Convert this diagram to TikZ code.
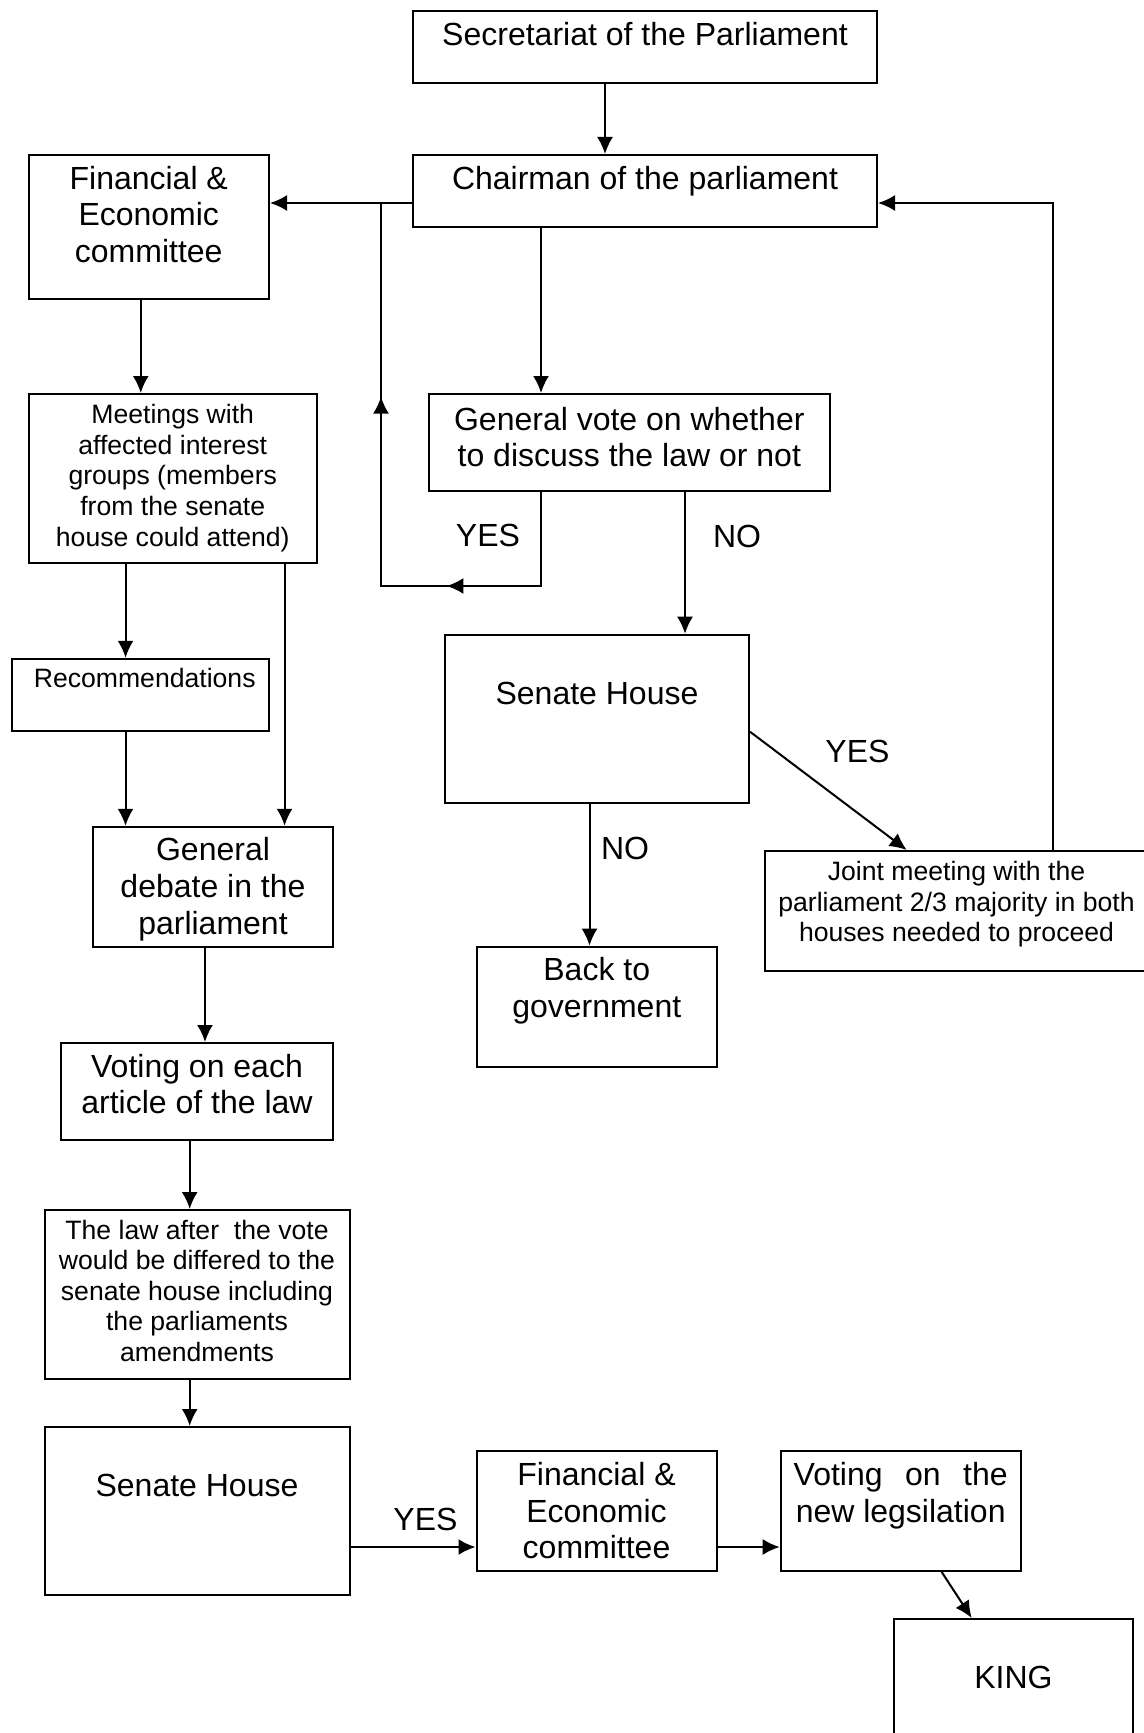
\documentclass[tikz,border=0pt]{standalone}
\usepackage{fontspec}
\setmainfont{Liberation Sans}
\usetikzlibrary{arrows.meta}
\usetikzlibrary{decorations,decorations.markings}
\tikzstyle{box}=[draw, line width=1pt, rectangle, inner sep=0pt]
\tikzstyle{bigtxt}=[anchor=north, inner sep=0pt, align=center, font=\fontsize{16}{18.45}\selectfont]
\tikzstyle{smalltxt}=[anchor=north, inner sep=0pt, align=center, font=\fontsize{13.3}{15.3}\selectfont]
\tikzstyle{answer}=[inner sep=0pt, font=\fontsize{16}{18.45}\selectfont]
\tikzstyle{flow}=[line width=1pt, -{Latex[length=8.5pt,width=8pt]}]
\tikzstyle{plainflow}=[line width=1pt]

\begin{document}
\begin{tikzpicture}[x=0.5pt, y=-0.5pt]
		\useasboundingbox (0,0) rectangle (1144,1733);
		% boxes
		\node[box, minimum width=232pt, minimum height=36pt] (secr) at (645,47) {};
		\node[box, minimum width=232pt, minimum height=36pt] (chair) at (645,191) {};
		\node[box, minimum width=120.25pt, minimum height=72pt] (fin) at (148.75,227) {};
		\node[box, minimum width=144.25pt, minimum height=84.5pt] (meet) at (172.75,478.5) {};
		\node[box, minimum width=200.3pt, minimum height=48.5pt] (vote) at (629.3,442.5) {};
		\node[box, minimum width=152pt, minimum height=84pt] (senA) at (597,718.7) {};
		\node[box, minimum width=128.3pt, minimum height=36.1pt] (reco) at (140.7,694.9) {};
		\node[box, minimum width=120.35pt, minimum height=60.3pt] (debate) at (213,887.1) {};
		\node[box, minimum width=136.4pt, minimum height=48.25pt] (votart) at (197,1091.25) {};
		\node[box, minimum width=119.75pt, minimum height=60.2pt] (back) at (596.75,1006.8) {};
		\node[box, minimum width=191.5pt, minimum height=60pt] (joint) at (956.5,911) {};
		\node[box, minimum width=152.5pt, minimum height=84.5pt] (law) at (197,1294.5) {};
		\node[box, minimum width=152.5pt, minimum height=84pt] (senB) at (197,1511) {};
		\node[box, minimum width=120pt, minimum height=60pt] (finB) at (596.5,1511) {};
		\node[box, minimum width=120pt, minimum height=60pt] (legis) at (900.7,1511) {};
		\node[box, minimum width=119.6pt, minimum height=63pt] (king) at (1013.4,1682) {};
		% texts
		\node[bigtxt] (secr-t) at ([yshift=-5.75pt]secr.north) {Secretariat of the Parliament};
		\node[bigtxt] (chair-t) at ([yshift=-5.75pt]chair.north) {Chairman of the parliament};
		\node[bigtxt] (fin-t) at ([yshift=-5.75pt]fin.north) {Financial \&\\Economic\\committee};
		\node[smalltxt] (meet-t) at ([yshift=-5.5pt]meet.north) {Meetings with\\affected interest\\groups (members\\from the senate\\house could attend)};
		\node[bigtxt] (vote-t) at ([yshift=-6.75pt]vote.north) {General vote on whether\\to discuss the law or not};
		\node[bigtxt] (senA-t) at ([yshift=-23.9pt]senA.north) {Senate House};
		\node[smalltxt] (reco-t) at ([xshift=2pt,yshift=-5.25pt]reco.north) {Recommendations};
		\node[bigtxt] (debate-t) at ([yshift=-5.75pt]debate.north) {General\\debate in the\\parliament};
		\node[bigtxt] (votart-t) at ([yshift=-5.75pt]votart.north) {Voting on each\\article of the law};
		\node[bigtxt] (back-t) at ([yshift=-5.75pt]back.north) {Back to\\government};
		\node[smalltxt] (joint-t) at ([yshift=-5.5pt]joint.north) {Joint meeting with the\\parliament 2/3 majority in both\\houses needed to proceed};
		\node[smalltxt] (law-t) at ([yshift=-5.25pt]law.north) {The law after~ the vote\\would be differed to the\\senate house including\\the parliaments\\amendments};
		\node[bigtxt] (senB-t) at ([yshift=-23.9pt]senB.north) {Senate House};
		\node[bigtxt] (finB-t) at ([yshift=-5.75pt]finB.north) {Financial \&\\Economic\\committee};
		\node[bigtxt] (legis-t) at ([yshift=-5.75pt]legis.north) {\hbox to 107pt{Voting\hfill on\hfill the}\\new legsilation};
		\node[bigtxt] (king-t) at ([yshift=-23.9pt]king.north) {KING};
		% answers
		\node[answer] (yesA) at (488,535) {YES};
		\node[answer] (noA) at (737,536) {NO};
		\node[answer] (noB) at (625,848) {NO};
		\node[answer] (yesB) at (857.5,751.5) {YES};
		\node[answer] (yesC) at (425.5,1519) {YES};
		% connectors
		\coordinate (junction) at (381,203);
		\coordinate (yesturn) at (381,586);
		\draw[flow] ([xshift=-20pt]secr.south) -- ([xshift=-20pt]secr.south |- chair.north);
		\draw[flow] ([yshift=-6pt]chair.west) -- ([yshift=-6pt]chair.west -| fin.east);
		\draw[flow] ([xshift=-52pt]chair.south) -- ([xshift=-52pt]chair.south |- vote.north);
		\draw[plainflow, postaction={decorate}, decoration={markings,
			mark=at position 0.296 with {\arrow{Latex[length=8.5pt,width=8pt]}},
			mark=at position 0.696 with {\arrow{Latex[length=8.5pt,width=8pt]}}}]
			([xshift=-52pt]chair.south |- vote.south) |- (yesturn) -- (junction);
		\draw[flow] ([xshift=-4pt]fin.south) -- ([xshift=-4pt]fin.south |- meet.north);
		\draw[flow] ([xshift=-23.6pt]meet.south) -- ([xshift=-23.6pt]meet.south |- reco.north);
		\draw[flow] ([xshift=55.9pt]meet.south) -- ([xshift=55.9pt]meet.south |- debate.north);
		\draw[flow] ([xshift=-7.6pt]reco.south) -- ([xshift=-7.6pt]reco.south |- debate.north);
		\draw[flow] ([xshift=27.85pt]vote.south) -- ([xshift=27.85pt]vote.south |- senA.north);
		\draw[flow] ([xshift=-3.75pt]senA.south) -- ([xshift=-3.75pt]senA.south |- back.north);
		\draw[flow] ([yshift=-6.5pt]senA.east) -- ([xshift=-24.9pt]joint.north);
		\draw[flow] ([xshift=48.25pt]joint.north) |- ([yshift=-6pt]chair.east);
		\draw[flow] ([xshift=-4pt]debate.south) -- ([xshift=-4pt]debate.south |- votart.north);
		\draw[flow] ([xshift=-3.65pt]votart.south) -- ([xshift=-3.65pt]votart.south |- law.north);
		\draw[flow] ([xshift=-3.65pt]law.south) -- ([xshift=-3.65pt]law.south |- senB.north);
		\draw[flow] ([yshift=-18pt]senB.east) -- ([yshift=-18pt]senB.east -| finB.west);
		\draw[flow] ([yshift=-18pt]finB.east) -- ([yshift=-18pt]finB.east -| legis.west);
		\draw[flow] ([xshift=20.5pt]legis.south) -- ([xshift=-20.85pt]king.north);
	\end{tikzpicture}
\end{document}
